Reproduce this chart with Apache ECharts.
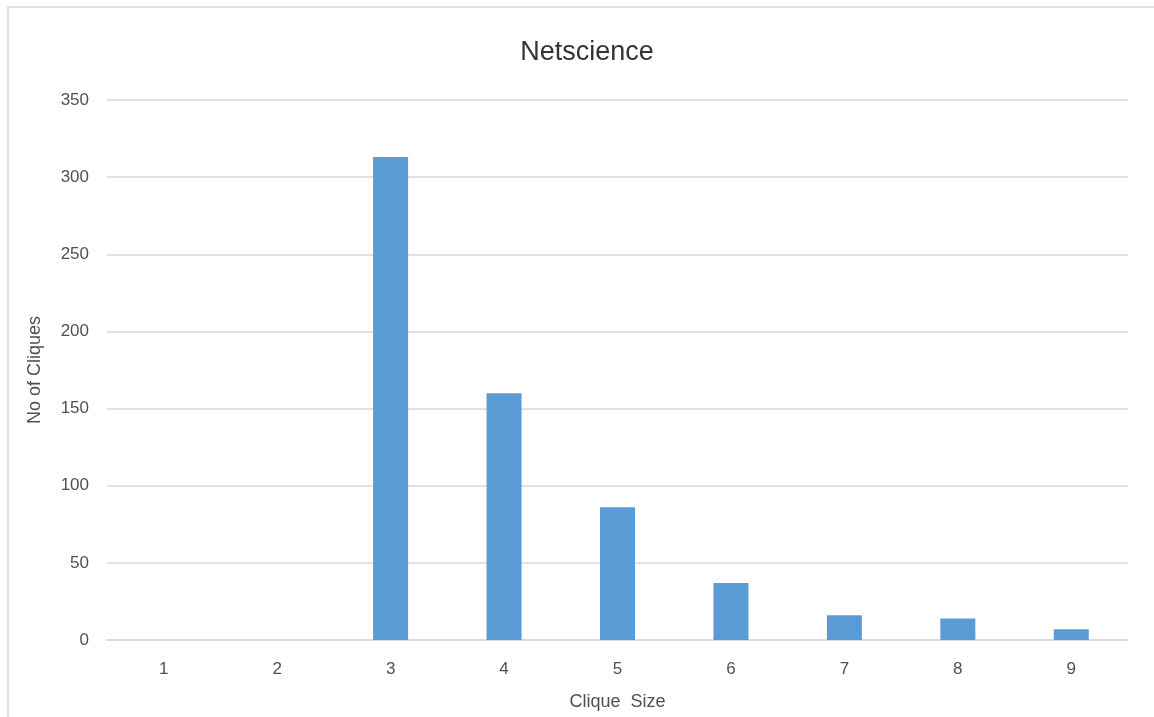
<!DOCTYPE html>
<html>
<head>
<meta charset="utf-8">
<script src="https://cdn.jsdelivr.net/npm/echarts@6/dist/echarts.min.js"></script>
<style>
html,body{margin:0;padding:0;background:#fff;}
#chart{width:1154px;height:717px;}
</style>
</head>
<body>
<div id="chart"></div>
<script>
const titleText = 'Netscience';
const xAxisName = 'Clique  Size';
const yAxisName = 'No of Cliques';
const categories = ['1', '2', '3', '4', '5', '6', '7', '8', '9'];
const cliqueCounts = [0, 0, 313, 160, 86, 37, 16, 14, 7];

const chart = echarts.init(document.getElementById('chart'));
const labelColor = '#505050';
const fontFamily = '"Liberation Sans", Arial, sans-serif';
chart.setOption({
  animation: false,
  backgroundColor: '#ffffff',
  graphic: [{
    type: 'rect',
    shape: { x: 8, y: 7, width: 1300, height: 900 },
    style: { fill: 'none', stroke: '#d9d9d9', lineWidth: 1.5 },
    silent: true
  }],
  title: {
    text: titleText,
    left: 582,
    top: 34,
    textAlign: 'center',
    textStyle: { color: '#333333', fontSize: 27, fontWeight: 'normal', fontFamily: fontFamily }
  },
  grid: { left: 107, right: 26, top: 100, bottom: 77, containLabel: false },
  xAxis: {
    type: 'category',
    data: categories,
    name: xAxisName,
    nameLocation: 'middle',
    nameGap: 53,
    nameTextStyle: { color: labelColor, fontSize: 18, fontFamily: fontFamily },
    axisLine: { show: true, lineStyle: { color: '#d9d9d9', width: 1.5 } },
    axisTick: { show: false },
    axisLabel: { color: labelColor, fontSize: 17, margin: 21, fontFamily: fontFamily }
  },
  yAxis: {
    type: 'value',
    min: 0,
    max: 350,
    interval: 50,
    name: yAxisName,
    nameLocation: 'middle',
    nameGap: 63,
    nameRotate: 90,
    nameTextStyle: { color: labelColor, fontSize: 18, fontFamily: fontFamily },
    axisLine: { show: false },
    axisTick: { show: false },
    splitLine: { lineStyle: { color: '#d9d9d9', width: 1.5 } },
    axisLabel: { color: labelColor, fontSize: 17, margin: 18, fontFamily: fontFamily }
  },
  series: [{
    type: 'bar',
    data: cliqueCounts,
    barWidth: 35,
    itemStyle: { color: '#5b9bd5' }
  }]
});
</script>
</body>
</html>
